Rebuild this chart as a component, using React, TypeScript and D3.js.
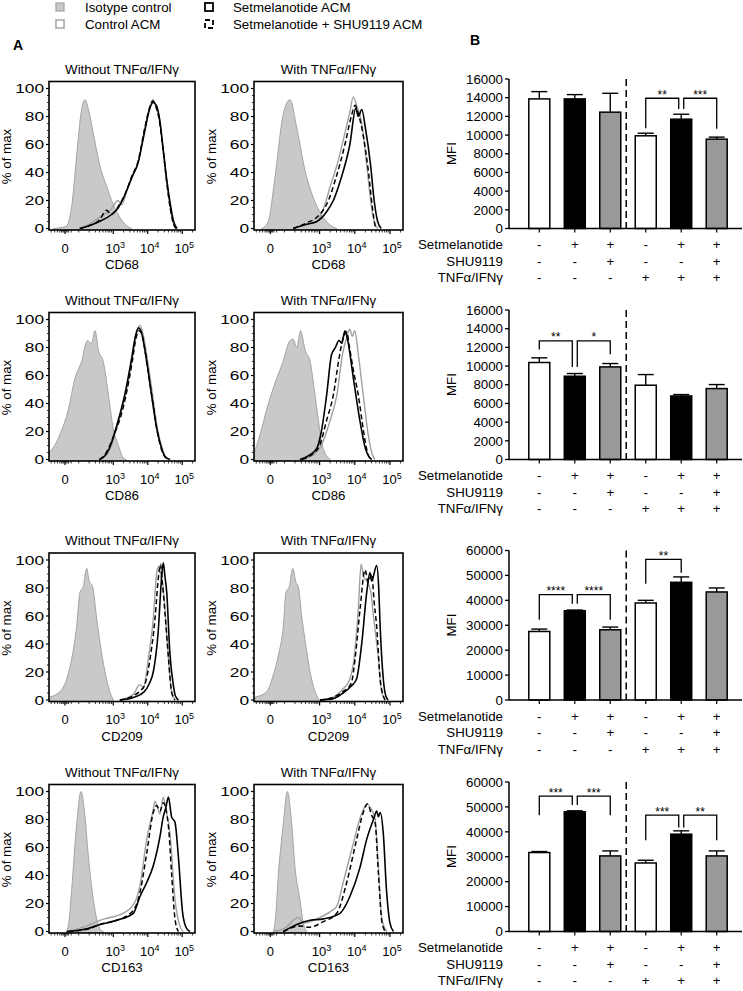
import React from "react";
import * as d3 from "d3";

type Pt = [number, number];

// ---------- Legend ----------
const legendLabels = ["Isotype control", "Control ACM", "Setmelanotide ACM", "Setmelanotide + SHU9119 ACM"];

// ---------- Histogram (panel A) ----------
const markers = ["CD68", "CD86", "CD209", "CD163"];
const conditionTitles = ["Without TNFα/IFNγ", "With TNFα/IFNγ"];
const histYTicks = [0, 20, 40, 60, 80, 100];
const histXTickPos = [1.6, 3, 4, 5];
const histXTickBase = ["0", "10", "10", "10"];
const histXTickSup = ["", "3", "4", "5"];
const histMinorPos = [1.2, 1.3, 1.38, 1.45, 1.5, 1.54, 1.57, 1.63, 1.66, 1.7, 1.78, 2.0, 2.3, 2.48, 2.6, 2.7, 2.78, 2.85, 2.9, 2.95,
  3.3, 3.48, 3.6, 3.7, 3.78, 3.85, 3.9, 3.95, 4.3, 4.48, 4.6, 4.7, 4.78, 4.85, 4.9, 4.95, 5.3];

// CD68 without
const cd68WoIso: Pt[] = [[1.26,0],[1.55,1],[1.65,2],[1.79,15],[1.96,58],[2.08,85],[2.18,92],[2.28,85],[2.42,68],[2.61,45],[2.81,30],[3.0,17],[3.19,8],[3.39,2],[3.53,0]];
const cd68WoCtrl: Pt[] = [[2.0,0],[2.3,3],[2.6,8],[2.95,14],[3.13,20],[3.25,17],[3.4,28],[3.55,38],[3.72,47],[3.9,70],[4.05,86],[4.15,92],[4.25,86],[4.33,80],[4.45,56],[4.55,33],[4.65,15],[4.75,3],[4.83,0]];
const cd68WoShu: Pt[] = [[2.05,0],[2.3,2],[2.6,6],[2.8,13],[2.95,10],[3.15,16],[3.35,25],[3.55,38],[3.72,48],[3.9,70],[4.05,86],[4.15,91],[4.25,86],[4.33,78],[4.45,55],[4.55,33],[4.65,15],[4.75,3],[4.82,0]];
const cd68WoSet: Pt[] = [[2.03,0],[2.3,2],[2.6,5],[2.95,10],[3.15,15],[3.3,22],[3.55,37],[3.72,47],[3.9,68],[4.05,85],[4.15,90],[4.25,88],[4.33,80],[4.45,56],[4.55,35],[4.65,18],[4.75,5],[4.85,0]];
// CD68 with
const cd68WIso: Pt[] = [[1.36,0],[1.54,5],[1.73,36],[1.97,82],[2.16,92],[2.35,72],[2.59,41],[2.82,22],[3.1,8],[3.39,1],[3.49,0]];
const cd68WCtrl: Pt[] = [[2.25,0],[2.63,3],[2.92,5],[3.15,17],[3.3,30],[3.49,45],[3.67,63],[3.85,82],[3.96,94],[4.05,88],[4.2,75],[4.34,45],[4.45,20],[4.55,5],[4.65,0]];
const cd68WShu: Pt[] = [[2.25,0],[2.63,4],[2.92,8],[3.25,20],[3.45,35],[3.72,60],[3.9,80],[4.01,88],[4.1,82],[4.25,65],[4.39,40],[4.5,15],[4.58,2],[4.62,0]];
const cd68WSet: Pt[] = [[2.25,0],[2.63,3],[2.92,5],[3.2,12],[3.39,20],[3.6,35],[3.86,60],[4.03,86],[4.1,80],[4.2,85],[4.3,72],[4.45,45],[4.55,20],[4.65,5],[4.75,0]];
// CD86 without
const cd86WoIso: Pt[] = [[1.136,5],[1.3,10],[1.455,18],[1.7,36],[1.89,58],[2.08,70],[2.25,85],[2.37,83],[2.47,92],[2.57,78],[2.71,70],[2.86,46],[3.0,22],[3.15,10],[3.29,1],[3.37,0]];
const cd86WoCtrl: Pt[] = [[2.62,0],[2.8,3],[2.95,10],[3.07,20],[3.22,33],[3.36,47],[3.55,72],[3.67,89],[3.76,96],[3.84,92],[4.0,70],[4.14,46],[4.28,22],[4.42,8],[4.52,2],[4.66,0]];
const cd86WoShu: Pt[] = [[2.6,0],[2.8,5],[2.95,13],[3.06,20],[3.22,31],[3.36,45],[3.55,70],[3.66,87],[3.74,92],[3.82,90],[3.98,68],[4.12,45],[4.27,21],[4.4,7],[4.5,2],[4.62,0]];
const cd86WoSet: Pt[] = [[2.6,0],[2.8,4],[2.95,12],[3.05,20],[3.2,33],[3.34,47],[3.53,72],[3.65,89],[3.73,94],[3.8,92],[3.97,70],[4.11,46],[4.26,22],[4.4,8],[4.5,2],[4.64,0]];
// CD86 with
const cd86WIso: Pt[] = [[1.136,4],[1.31,18],[1.5,36],[1.78,58],[1.95,69],[2.16,85],[2.25,86],[2.35,80],[2.46,92],[2.59,78],[2.73,70],[2.87,46],[2.96,29],[3.1,8],[3.3,0]];
const cd86WCtrl: Pt[] = [[2.5,0],[2.8,3],[3.05,10],[3.3,28],[3.49,46],[3.65,75],[3.78,88],[3.86,93],[3.93,88],[4.0,92],[4.1,75],[4.24,46],[4.38,18],[4.48,5],[4.57,0]];
const cd86WShu: Pt[] = [[2.5,0],[2.75,3],[3.0,10],[3.2,28],[3.39,46],[3.55,72],[3.65,85],[3.77,91],[3.85,80],[3.95,65],[4.1,46],[4.25,20],[4.35,6],[4.45,0]];
const cd86WSet: Pt[] = [[2.44,0],[2.7,3],[2.92,8],[3.05,20],[3.2,46],[3.34,75],[3.45,80],[3.55,85],[3.63,83],[3.72,92],[3.8,85],[3.96,58],[4.15,27],[4.3,8],[4.4,2],[4.48,0]];
// CD209 without
const cd209WoIso: Pt[] = [[1.136,2],[1.455,6],[1.65,15],[1.79,29],[1.94,53],[2.035,77],[2.13,81],[2.23,94],[2.3,85],[2.4,81],[2.52,58],[2.615,41],[2.76,20],[2.9,6],[3.0,0]];
const cd209WoCtrl: Pt[] = [[3.19,0],[3.58,4],[3.77,11],[3.87,9],[4.02,30],[4.16,58],[4.26,91],[4.33,96],[4.38,88],[4.45,80],[4.5,65],[4.6,30],[4.69,6],[4.79,0]];
const cd209WoShu: Pt[] = [[3.19,0],[3.58,3],[3.8,7],[3.9,10],[4.07,30],[4.21,58],[4.31,88],[4.37,97],[4.42,85],[4.5,62],[4.6,30],[4.69,6],[4.79,0]];
const cd209WoSet: Pt[] = [[3.19,0],[3.6,2],[3.9,6],[4.05,12],[4.16,20],[4.3,48],[4.4,87],[4.45,98],[4.5,88],[4.55,77],[4.64,34],[4.74,11],[4.8,3],[4.89,0]];
// CD209 with
const cd209WIso: Pt[] = [[1.164,2],[1.5,6],[1.685,18],[1.83,32],[1.97,53],[2.045,77],[2.14,81],[2.236,94],[2.33,84],[2.395,81],[2.49,60],[2.585,43],[2.73,20],[2.87,6],[2.99,0]];
const cd209WCtrl: Pt[] = [[3.01,0],[3.39,2],[3.67,8],[3.86,15],[3.96,26],[4.1,65],[4.18,97],[4.25,88],[4.34,85],[4.45,78],[4.53,60],[4.67,30],[4.76,6],[4.86,0]];
const cd209WShu: Pt[] = [[3.01,0],[3.39,2],[3.67,6],[3.9,12],[4.01,30],[4.15,65],[4.29,93],[4.385,84],[4.48,90],[4.55,70],[4.62,53],[4.72,15],[4.81,3],[4.86,0]];
const cd209WSet: Pt[] = [[3.01,0],[3.39,1],[3.67,5],[3.9,10],[4.05,15],[4.2,41],[4.34,77],[4.43,91],[4.48,85],[4.62,96],[4.68,80],[4.72,53],[4.81,15],[4.88,3],[4.95,0]];
// CD163 without
const cd163WoIso: Pt[] = [[1.65,0],[1.72,8],[1.794,30],[1.94,77],[2.064,100],[2.18,82],[2.276,54],[2.42,23],[2.52,9],[2.615,2],[2.71,0]];
const cd163WoCtrl: Pt[] = [[1.65,0],[2.24,4],[2.615,8],[2.905,10],[3.195,12],[3.58,19],[3.775,33],[3.97,66],[4.16,87],[4.21,93],[4.355,84],[4.45,96],[4.52,88],[4.645,70],[4.79,23],[4.93,4],[5.03,0]];
const cd163WoShu: Pt[] = [[1.7,0],[2.3,2],[2.615,5],[3.1,8],[3.58,15],[3.775,28],[3.97,56],[4.16,85],[4.26,90],[4.355,86],[4.45,92],[4.6,75],[4.69,42],[4.79,9],[4.886,0]];
const cd163WoSet: Pt[] = [[1.65,0],[2.24,2],[2.615,5],[3.1,8],[3.58,13],[3.775,25],[3.97,35],[4.16,47],[4.355,68],[4.45,82],[4.52,88],[4.6,96],[4.69,82],[4.79,78],[4.886,54],[5.013,13],[5.13,2],[5.225,0]];
// CD163 with
const cd163WIso: Pt[] = [[1.685,0],[1.75,10],[1.827,40],[1.97,77],[2.083,100],[2.207,77],[2.3,46],[2.44,23],[2.537,6],[2.632,0]];
const cd163WCtrl: Pt[] = [[1.685,0],[2.05,3],[2.3,9],[2.4,10],[2.55,6],[2.918,9],[3.296,14],[3.486,18],[3.67,35],[3.96,63],[4.1,77],[4.24,87],[4.34,91],[4.48,87],[4.58,80],[4.67,46],[4.77,9],[4.91,0]];
const cd163WShu: Pt[] = [[1.97,0],[2.44,4],[2.7,3],[3.105,7],[3.486,13],[3.77,35],[4.054,66],[4.24,85],[4.36,91],[4.48,83],[4.58,77],[4.67,42],[4.77,7],[4.87,0]];
const cd163WSet: Pt[] = [[1.97,0],[2.35,5],[2.73,8],[3.105,9],[3.58,13],[3.86,25],[4.15,46],[4.34,66],[4.53,80],[4.623,86],[4.67,82],[4.72,85],[4.81,70],[4.9,30],[5.0,6],[5.1,0]];

// ---------- Bars (panel B) ----------
const barGroups = [0, 1, 2, 3, 4, 5];
const rowLabels = ["Setmelanotide", "SHU9119", "TNFα/IFNγ"];
const setmelanotideSigns = ["-", "+", "+", "-", "+", "+"];
const shu9119Signs = ["-", "-", "+", "-", "-", "+"];
const tnfSigns = ["-", "-", "-", "+", "+", "+"];

const cd68Mean = [13870, 13870, 12450, 9920, 11700, 9560];
const cd68Err = [14650, 14330, 14470, 10200, 12230, 9780];
const cd86Mean = [10380, 8910, 9910, 7950, 6800, 7590];
const cd86Err = [10880, 9200, 10270, 9090, 6950, 8020];
const cd209Mean = [27500, 35840, 28190, 38930, 47240, 43360];
const cd209Err = [28450, 36100, 29270, 40000, 49400, 44970];
const cd163Mean = [31690, 48040, 30330, 27500, 39060, 30330];
const cd163Err = [32090, 48440, 32340, 28590, 40400, 32340];

const ticks16k = [0, 2000, 4000, 6000, 8000, 10000, 12000, 14000, 16000];
const ticks60k = [0, 10000, 20000, 30000, 40000, 50000, 60000];

type Sig = { from: number; to: number; level: number; ends: [number, number]; label: string };
const cd68Sig: Sig[] = [
  { from: 3, to: 4, level: 13940, ends: [10740, 12800], label: "**" },
  { from: 4, to: 5, level: 13940, ends: [12800, 10670], label: "***" },
];
const cd86Sig: Sig[] = [
  { from: 0, to: 1, level: 12700, ends: [11780, 9910], label: "**" },
  { from: 1, to: 2, level: 12700, ends: [9910, 11275], label: "*" },
];
const cd209Sig: Sig[] = [
  { from: 0, to: 1, level: 42300, ends: [32200, 38600], label: "****" },
  { from: 1, to: 2, level: 42300, ends: [38600, 32200], label: "****" },
  { from: 3, to: 4, level: 56400, ends: [46700, 51100], label: "**" },
];
const cd163Sig: Sig[] = [
  { from: 0, to: 1, level: 54360, ends: [46700, 50740], label: "***" },
  { from: 1, to: 2, level: 54360, ends: [50740, 46700], label: "***" },
  { from: 3, to: 4, level: 46700, ends: [36640, 41750], label: "***" },
  { from: 4, to: 5, level: 46700, ends: [41750, 36640], label: "**" },
];

// ---------- layout ----------
const FONT = "'Liberation Sans', Arial, sans-serif";
const rowZero = [228.5, 459.5, 700, 931.5];
const histPanelsX: [number, number][] = [[49, 195], [254, 403]];
const HIST_DOMAIN: [number, number] = [1.136, 5.37];
const barFills = ["#ffffff", "#000000", "#999999"];

const histData = [
  [[cd68WoIso, cd68WoCtrl, cd68WoShu, cd68WoSet], [cd68WIso, cd68WCtrl, cd68WShu, cd68WSet]],
  [[cd86WoIso, cd86WoCtrl, cd86WoShu, cd86WoSet], [cd86WIso, cd86WCtrl, cd86WShu, cd86WSet]],
  [[cd209WoIso, cd209WoCtrl, cd209WoShu, cd209WoSet], [cd209WIso, cd209WCtrl, cd209WShu, cd209WSet]],
  [[cd163WoIso, cd163WoCtrl, cd163WoShu, cd163WoSet], [cd163WIso, cd163WCtrl, cd163WShu, cd163WSet]],
];
const barData = [
  { mean: cd68Mean, err: cd68Err, max: 16000, ticks: ticks16k, sig: cd68Sig },
  { mean: cd86Mean, err: cd86Err, max: 16000, ticks: ticks16k, sig: cd86Sig },
  { mean: cd209Mean, err: cd209Err, max: 60000, ticks: ticks60k, sig: cd209Sig },
  { mean: cd163Mean, err: cd163Err, max: 60000, ticks: ticks60k, sig: cd163Sig },
];

function Histogram(props: { x0: number; x1: number; zero: number; title: string; marker: string; curves: Pt[][]; id: string }) {
  const { x0, x1, zero, title, marker, curves, id } = props;
  const xs = d3.scaleLinear().domain(HIST_DOMAIN).range([x0, x1]);
  const ys = d3.scaleLinear().domain([0, 100]).range([zero, zero - 140]);
  const top = zero - 147;
  const bottom = zero + 1.5;
  const line = d3.line<Pt>().x((d) => xs(d[0])).y((d) => ys(d[1])).curve(d3.curveMonotoneX);
  const area = d3.area<Pt>().x((d) => xs(d[0])).y0(bottom).y1((d) => ys(d[1])).curve(d3.curveMonotoneX);
  const [iso, ctrl, shu, set] = curves;
  const cx = (x0 + x1) / 2;
  const minorY = d3.range(0, 101, 5).filter((v) => v % 20 !== 0);
  return (
    <g>
      <defs>
        <clipPath id={id}>
          <rect x={x0} y={top} width={x1 - x0} height={bottom - top} />
        </clipPath>
      </defs>
      <text x={cx} y={zero - 155} textAnchor="middle" fontSize={13.3} fontFamily={FONT}>{title}</text>
      <g clipPath={`url(#${id})`}>
        <path d={area(iso) || ""} fill="#c9c9c9" stroke="#a3a3a3" strokeWidth={1} />
        <path d={line(ctrl) || ""} fill="none" stroke="#a0a0a0" strokeWidth={1.4} />
        <path d={line(shu) || ""} fill="none" stroke="#000" strokeWidth={1.5} strokeDasharray="5,3" />
        <path d={line(set) || ""} fill="none" stroke="#000" strokeWidth={1.6} />
      </g>
      <rect x={x0} y={top} width={x1 - x0} height={bottom - top} fill="none" stroke="#000" strokeWidth={1.6} />
      {histYTicks.map((v) => (
        <g key={v}>
          <line x1={x0 - 3} x2={x0} y1={ys(v)} y2={ys(v)} stroke="#000" strokeWidth={1.2} />
          <text transform={`translate(${x0 - 5},${ys(v) + 4.7}) scale(1.3,1)`} textAnchor="end" fontSize={13.3} fontFamily={FONT}>{v}</text>
        </g>
      ))}
      {minorY.map((v) => (
        <line key={"m" + v} x1={x0 - 2} x2={x0} y1={ys(v)} y2={ys(v)} stroke="#000" strokeWidth={0.8} />
      ))}
      {histMinorPos.map((p, i) => (
        <line key={"xm" + i} x1={xs(p)} x2={xs(p)} y1={bottom} y2={bottom + 2.5} stroke="#000" strokeWidth={0.8} />
      ))}
      {histXTickPos.map((p, i) => (
        <g key={"xt" + i}>
          <line x1={xs(p)} x2={xs(p)} y1={bottom} y2={bottom + 4} stroke="#000" strokeWidth={1.2} />
          <text x={xs(p) + (histXTickSup[i] ? 2 : 0)} y={zero + 24} textAnchor="middle" fontSize={13} fontFamily={FONT}>
            {histXTickBase[i]}
            {histXTickSup[i] ? <tspan dy={-5} fontSize={9}>{histXTickSup[i]}</tspan> : null}
          </text>
        </g>
      ))}
      <text x={cx} y={zero + 40.5} textAnchor="middle" fontSize={13.3} fontFamily={FONT}>{marker}</text>
      <text transform={`translate(${x0 - 38},${zero - 72}) rotate(-90)`} textAnchor="middle" fontSize={13.3} fontFamily={FONT}>% of max</text>
    </g>
  );
}

function BarPanel(props: { zero: number; mean: number[]; err: number[]; max: number; ticks: number[]; sig: Sig[] }) {
  const { zero, mean, err, max, ticks, sig } = props;
  const y = d3.scaleLinear().domain([0, max]).range([zero, zero - 149.5]);
  const x = d3.scalePoint<number>().domain(barGroups).range([539.3, 716.7]);
  const bw = 21;
  const axisX = 509;
  const sepX = (x(2) as number) + ((x(3) as number) - (x(2) as number)) * 0.45;
  const signRows = [setmelanotideSigns, shu9119Signs, tnfSigns];
  const rowOffsets = [16, 32.5, 49];
  const shared = (idx: number) => sig.filter((s) => s.from === idx || s.to === idx).length > 1;
  return (
    <g>
      {ticks.map((t) => (
        <g key={t}>
          <line x1={axisX - 4} x2={axisX} y1={y(t)} y2={y(t)} stroke="#000" strokeWidth={1.3} />
          <text x={axisX - 6} y={y(t) + 4.7} textAnchor="end" fontSize={13.3} fontFamily={FONT}>{t}</text>
        </g>
      ))}
      <text transform={`translate(${456},${zero - 75}) rotate(-90)`} textAnchor="middle" fontSize={13.3} fontFamily={FONT}>MFI</text>
      <line x1={sepX} x2={sepX} y1={y(max)} y2={zero} stroke="#000" strokeWidth={1.5} strokeDasharray="7,4" />
      {barGroups.map((g) => {
        const cx = x(g) as number;
        return (
          <g key={g}>
            <line x1={cx} x2={cx} y1={y(mean[g])} y2={y(err[g])} stroke="#000" strokeWidth={1.4} />
            <line x1={cx - 8} x2={cx + 8} y1={y(err[g])} y2={y(err[g])} stroke="#000" strokeWidth={1.4} />
            <rect x={cx - bw / 2} y={y(mean[g])} width={bw} height={zero - y(mean[g])} fill={barFills[g % 3]} stroke="#000" strokeWidth={1.5} />
            <line x1={cx} x2={cx} y1={zero} y2={zero + 4} stroke="#000" strokeWidth={1.2} />
          </g>
        );
      })}
      <line x1={axisX} x2={axisX} y1={y(max)} y2={zero} stroke="#000" strokeWidth={1.5} />
      <line x1={axisX} x2={742} y1={zero} y2={zero} stroke="#000" strokeWidth={1.5} />
      {sig.map((s, i) => {
        const xa = (x(s.from) as number) + (shared(s.from) ? 2.5 : 0);
        const xb = (x(s.to) as number) - (shared(s.to) ? 2.5 : 0);
        const ly = y(s.level);
        return (
          <g key={"s" + i}>
            <path d={`M${xa},${y(s.ends[0])}V${ly}H${xb}V${y(s.ends[1])}`} fill="none" stroke="#000" strokeWidth={1.3} />
            <text x={(xa + xb) / 2} y={ly + 0.5} textAnchor="middle" fontSize={12} fontFamily={FONT}>{s.label}</text>
          </g>
        );
      })}
      {rowLabels.map((lab, r) => (
        <g key={lab}>
          <text x={503} y={zero + rowOffsets[r] + 4.7} textAnchor="end" fontSize={13.3} fontFamily={FONT}>{lab}</text>
          {barGroups.map((g) => (
            <text key={g} x={x(g) as number} y={zero + rowOffsets[r] + 4.7} textAnchor="middle" fontSize={13.3} fontFamily={FONT}>{signRows[r][g]}</text>
          ))}
        </g>
      ))}
    </g>
  );
}

export default function App() {
  const legendItems = [
    { x: 56, y: 3, fill: "#c9c9c9", stroke: "#a3a3a3", dash: "", sw: 1.2 },
    { x: 56, y: 20, fill: "#ffffff", stroke: "#a0a0a0", dash: "", sw: 1.4 },
    { x: 205, y: 3, fill: "#ffffff", stroke: "#000", dash: "", sw: 1.8 },
    { x: 205, y: 20, fill: "#ffffff", stroke: "#000", dash: "5,3", sw: 1.8 },
  ];
  return (
    <svg width={743} height={991} style={{ position: "absolute", left: 0, top: 0, background: "#fff" }}>
      <rect width={743} height={991} fill="#fff" />
      {legendLabels.map((lab, i) => {
        const it = legendItems[i];
        return (
          <g key={lab}>
            <rect x={it.x} y={it.y} width={8} height={8} fill={it.fill} stroke={it.stroke} strokeWidth={it.sw} strokeDasharray={it.dash || undefined} />
            <text x={it.x + (i < 2 ? 29 : 28)} y={it.y + 8.7} fontSize={13.3} fontFamily={FONT}>{lab}</text>
          </g>
        );
      })}
      <text x={13} y={50} fontSize={14} fontWeight="bold" fontFamily={FONT}>A</text>
      <text x={470} y={45} fontSize={14} fontWeight="bold" fontFamily={FONT}>B</text>
      {markers.map((m, r) => (
        <g key={m}>
          {histPanelsX.map(([x0, x1], c) => (
            <Histogram key={c} x0={x0} x1={x1} zero={rowZero[r]} title={conditionTitles[c]} marker={m} curves={histData[r][c]} id={`clip-${r}-${c}`} />
          ))}
          <BarPanel zero={rowZero[r]} {...barData[r]} />
        </g>
      ))}
    </svg>
  );
}
